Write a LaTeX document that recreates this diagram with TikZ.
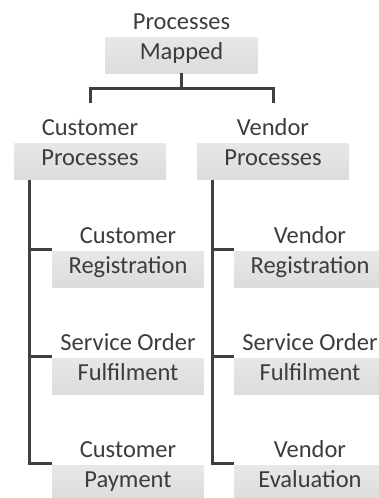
\documentclass[tikz,border=0pt]{standalone}
\usepackage{fontspec}
\setmainfont{Carlito}
\definecolor{ink}{HTML}{3C3C3C}
\definecolor{wire}{HTML}{404040}
\definecolor{boxtop}{HTML}{F4F4F4}
\definecolor{boxbot}{HTML}{DCDCDC}
% two lines with fixed height and depth, so every label sits alike
\newcommand\twolines[2]{\rule{0pt}{30pt}#1\\#2\rule[-12pt]{0pt}{0pt}}
\begin{document}
\begin{tikzpicture}[x=1pt,y=1pt,
  box/.style={minimum width=152pt,minimum height=76pt,inner sep=0pt,align=center,text=ink,
    font=\fontsize{24.5}{30}\selectfont,
    path picture={\shade[top color=boxtop,bottom color=boxbot]([yshift=-2pt]path picture bounding box.west)rectangle(path picture bounding box.south east);}},
  link/.style={draw=wire,line width=3pt,line join=miter}]
\useasboundingbox (0,0) rectangle (378,-498);
% root and the two process groups
\node[box](root) at (181.5,-35) {\twolines{Processes}{Mapped}};
\node[box](cust) at (90,-141.5) {\twolines{Customer}{Processes}};
\node[box](vend) at (273,-141.5) {\twolines{Vendor}{Processes}};
\draw[link](root.south)--++(0,-15)-|(cust.north);
\draw[link](root.south)--++(0,-15)-|(vend.north);
% customer side
\node[box](custreg) at (128,-249) {\twolines{Customer}{Registration}};
\node[box](custso) at (128,-356) {\twolines{Service Order}{Fulfilment}};
\node[box](custpay) at (128,-463) {\twolines{Customer}{Payment}};
\foreach \n in {custreg,custso,custpay}
  \draw[link]([xshift=15.5pt]cust.south west)|-(\n.west);
% vendor side
\node[box](vendreg) at (310,-249) {\twolines{Vendor}{Registration}};
\node[box](vendso) at (310,-356) {\twolines{Service Order}{Fulfilment}};
\node[box](vendeval) at (310,-463) {\twolines{Vendor}{Evaluation}};
\foreach \n in {vendreg,vendso,vendeval}
  \draw[link]([xshift=16pt]vend.south west)|-(\n.west);
\end{tikzpicture}
\end{document}
